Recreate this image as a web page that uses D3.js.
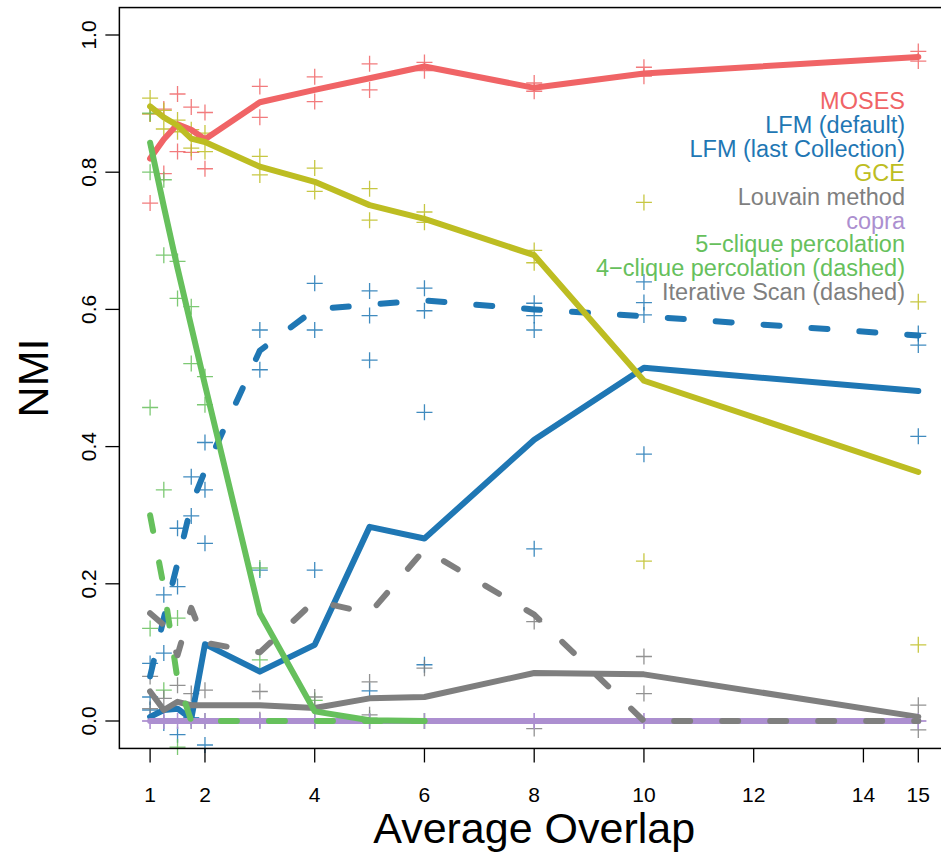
<!DOCTYPE html>
<html>
<head>
<meta charset="utf-8">
<script src="https://cdn.jsdelivr.net/npm/d3@7"></script>
<style>
  html, body { margin: 0; padding: 0; background: #fff; }
  svg { display: block; font-family: "Liberation Sans", Arial, Helvetica, sans-serif; }
</style>
</head>
<body>
<div id="chart"></div>
<script>
// x positions (average overlap) of the runs
const xs = [1, 1.25, 1.5, 1.75, 2, 3, 4, 5, 6, 8, 10, 15];
const xTicks = [1, 2, 4, 6, 8, 10, 12, 14, 15];
const yTicks = [0, 0.2, 0.4, 0.6, 0.8, 1.0];

// mean NMI per method (lines)
const mosesMean      = [0.820, 0.848, 0.870, 0.862, 0.848, 0.902, 0.920, 0.937, 0.954, 0.923, 0.944, 0.968];
const lfmDefaultMean = [0.006, 0.016, 0.018, 0.003, 0.112, 0.072, 0.111, 0.283, 0.266, 0.410, 0.515, 0.481];
const lfmLastMean    = [0.065, 0.150, 0.230, 0.315, 0.365, 0.540, 0.600, 0.607, 0.613, 0.600, 0.590, 0.562];
const gceMean        = [0.896, 0.880, 0.868, 0.849, 0.844, 0.808, 0.786, 0.752, 0.732, 0.679, 0.496, 0.363];
const louvainMean    = [0.043, 0.016, 0.028, 0.023, 0.023, 0.023, 0.019, 0.033, 0.035, 0.070, 0.068, 0.006];
const copraMean      = [0, 0, 0, 0, 0, 0, 0, 0, 0, 0, 0, 0];
const clique5Mean    = [0.843, 0.750, 0.660, 0.575, 0.490, 0.157, 0.014, 0.001, 0.000];
const clique4Mean    = [0.300, 0.195, 0.060, 0.000, 0.000, 0.000, 0.000, 0.000, 0.000];
const iterScanMean   = [0.157, 0.140, 0.096, 0.165, 0.114, 0.100, 0.175, 0.157, 0.250, 0.155, 0.000, 0.000];

// individual runs (crosses), one list per x position
const mosesRuns = [[0.885, 0.755], [0.892, 0.798], [0.914, 0.830], [0.895, 0.829], [0.887, 0.805],
  [0.925, 0.880], [0.939, 0.903], [0.958, 0.920], [0.960, 0.948], [0.930, 0.918], [0.953, 0.940], [0.976, 0.962]];
const gceRuns = [[0.908, 0.885], [0.890, 0.863], [0.876, 0.859], [0.862, 0.835], [0.857, 0.830],
  [0.823, 0.796], [0.806, 0.772], [0.776, 0.730], [0.742, 0.727], [0.686, 0.668], [0.756, 0.233], [0.611, 0.111]];
const lfmRuns = [[0.084, 0.035, 0.016], [0.184, 0.099, -0.003], [0.281, 0.196, -0.020], [0.356, 0.299, 0.005],
  [0.406, 0.337, 0.259, -0.035], [0.570, 0.512, 0.220], [0.638, 0.570, 0.220], [0.627, 0.591, 0.526, 0.044],
  [0.631, 0.598, 0.450, 0.082], [0.609, 0.591, 0.570, 0.251], [0.640, 0.610, 0.592, 0.389], [0.565, 0.548, 0.415]];
const cliqueRuns = [[0.886, 0.800, 0.457, 0.135], [0.789, 0.679, 0.337, 0.045], [0.670, 0.616, 0.150, -0.038],
  [0.604, 0.521, 0.000], [0.502, 0.461, 0.000], [0.223, 0.089], [0.030, 0.000], [0.004, 0.000], [0.000, 0.000]];
const grayRuns = [[0.065, 0.018], [0.033], [0.052], [0.040], [0.045], [0.043, 0.002], [0.035],
  [0.057, 0.009], [0.077], [0.145, -0.011], [0.094, 0.040], [0.023, -0.013]];
const copraRuns = [[0, 0], [0, 0], [0, 0], [0, 0], [0, 0], [0, 0], [0, 0], [0, 0], [0, 0], [0, 0], [0, 0], [0, 0]];

const legendLabels = ['MOSES', 'LFM (default)', 'LFM (last Collection)', 'GCE', 'Louvain method',
  'copra', '5\u2212clique percolation', '4\u2212clique percolation (dashed)', 'Iterative Scan (dashed)'];

const RED = '#F06466', BLUE = '#1F77B4', OLIVE = '#BDBD22', GRAY = '#7F7F7F', PURPLE = '#AC8FD0', GREEN = '#66C05C';
const legendColors = [RED, BLUE, BLUE, OLIVE, GRAY, PURPLE, GREEN, GREEN, GRAY];

const width = 941, height = 855;
const x = d3.scaleLinear().domain([1, 15]).range([150.1, 918.3]);
const y = d3.scaleLinear().domain([0, 1]).range([721, 35]);

const svg = d3.select('#chart').append('svg')
  .attr('width', width)
  .attr('height', height);

svg.append('rect').attr('width', width).attr('height', height).attr('fill', '#fff');

// crosses first, lines on top
function crosses(runs, color) {
  const pts = [];
  runs.forEach((vals, i) => vals.forEach(v => pts.push([xs[i], v])));
  svg.append('g').selectAll('path')
    .data(pts)
    .enter().append('path')
    .attr('d', d => `M${x(d[0]) - 8},${y(d[1])}H${x(d[0]) + 8}M${x(d[0])},${y(d[1]) - 8}V${y(d[1]) + 8}`)
    .attr('stroke', color)
    .attr('stroke-width', 1.3)
    .attr('stroke-opacity', 0.85)
    .attr('fill', 'none');
}

crosses(mosesRuns, RED);
crosses(gceRuns, OLIVE);
crosses(lfmRuns, BLUE);
crosses(cliqueRuns, GREEN);
crosses(grayRuns, GRAY);
crosses(copraRuns, PURPLE);

const line = d3.line().x(d => x(d[0])).y(d => y(d[1]));

function series(vals, color, dashed) {
  svg.append('path')
    .datum(vals.map((v, i) => [xs[i], v]))
    .attr('d', line)
    .attr('fill', 'none')
    .attr('stroke', color)
    .attr('stroke-width', 6)
    .attr('stroke-linecap', 'round')
    .attr('stroke-linejoin', 'round')
    .attr('stroke-dasharray', dashed ? '16,32' : null);
}

series(mosesMean, RED, false);
series(lfmDefaultMean, BLUE, false);
series(lfmLastMean, BLUE, true);
series(gceMean, OLIVE, false);
series(louvainMean, GRAY, false);
series(copraMean, PURPLE, false);
series(clique5Mean, GREEN, false);
series(clique4Mean, GREEN, true);
series(iterScanMean, GRAY, true);

// plot box
const x0 = x(1 - 0.56), x1 = x(15 + 0.56), y0 = y(1.04), y1 = y(-0.04);
svg.append('rect')
  .attr('x', x0).attr('y', y0)
  .attr('width', x1 - x0).attr('height', y1 - y0)
  .attr('fill', 'none').attr('stroke', '#000').attr('stroke-width', 1.5);

// x axis
const xAxis = svg.append('g');
xAxis.selectAll('line').data(xTicks).enter().append('line')
  .attr('x1', d => x(d)).attr('x2', d => x(d))
  .attr('y1', y1).attr('y2', y1 + 14)
  .attr('stroke', '#000').attr('stroke-width', 1.3);
xAxis.selectAll('text').data(xTicks).enter().append('text')
  .attr('x', d => x(d)).attr('y', 802)
  .attr('text-anchor', 'middle')
  .attr('font-size', 21)
  .text(d => d);

// y axis
const yAxis = svg.append('g');
yAxis.selectAll('line').data(yTicks).enter().append('line')
  .attr('x1', x0 - 14).attr('x2', x0)
  .attr('y1', d => y(d)).attr('y2', d => y(d))
  .attr('stroke', '#000').attr('stroke-width', 1.3);
yAxis.selectAll('text').data(yTicks).enter().append('text')
  .attr('transform', d => `translate(96,${y(d)}) rotate(-90)`)
  .attr('text-anchor', 'middle')
  .attr('font-size', 21)
  .text(d => d.toFixed(1));

// titles
svg.append('text')
  .attr('x', (x0 + x1) / 2).attr('y', 843)
  .attr('text-anchor', 'middle')
  .attr('font-size', 43)
  .text('Average Overlap');
svg.append('text')
  .attr('transform', `translate(48,${(y0 + y1) / 2}) rotate(-90)`)
  .attr('text-anchor', 'middle')
  .attr('font-size', 43)
  .text('NMI');

// legend (text only, right aligned)
svg.append('g').selectAll('text')
  .data(legendLabels)
  .enter().append('text')
  .attr('x', 905)
  .attr('y', (d, i) => 109 + i * 23.9)
  .attr('text-anchor', 'end')
  .attr('font-size', 23.5)
  .attr('fill', (d, i) => legendColors[i])
  .text(d => d);
</script>
</body>
</html>
